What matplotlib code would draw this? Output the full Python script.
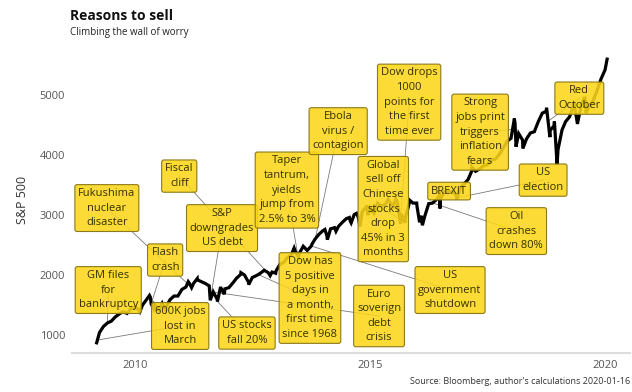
import matplotlib.pyplot as plt
import numpy as np
import pandas as pd

plt.rcParams["font.family"] = ["Open Sans", "DejaVu Sans"]

# month-end closes, Mar 2009 .. Dec 2019 (index level, total return scale)
monthly_start = "2009-03-31"
monthly_values = [
    1040, 1140, 1200, 1230, 1300, 1350, 1390, 1360, 1440, 1470,
    1420, 1500, 1590, 1630, 1510, 1440, 1530, 1470, 1590, 1650, 1650, 1760,
    1800, 1860, 1860, 1920, 1890, 1860, 1820, 1720, 1600, 1780, 1770, 1790,
    1870, 1950, 2010, 2000, 1880, 1960, 1990, 2030, 2080, 2040, 2050, 2070,
    2180, 2210, 2290, 2340, 2390, 2360, 2480, 2410, 2480, 2600, 2680, 2740,
    2650, 2770, 2790, 2810, 2880, 2940, 2900, 3010, 2970, 3050, 3130, 3120,
    3030, 3200, 3150, 3180, 3220, 3150, 3220, 3020, 2940, 3190, 3200, 3150,
    2990, 2980, 3190, 3200, 3260, 3270, 3390, 3390, 3390, 3330, 3450, 3520,
    3590, 3730, 3730, 3770, 3820, 3840, 3920, 3930, 4010, 4110, 4230, 4280,
    4530, 4360, 4250, 4270, 4370, 4390, 4560, 4700, 4730, 4410, 4490, 4090,
    4420, 4560, 4640, 4830, 4520, 4840, 4910, 4820, 4910, 5080, 5270, 5420,
]

# intra-month highs and lows
extra_dates = [
    "2009-03-09", "2010-02-08", "2010-04-23", "2010-05-06", "2010-05-25",
    "2010-07-02", "2010-08-26", "2011-02-18", "2011-03-16", "2011-04-29",
    "2011-08-08", "2011-08-31", "2011-10-03", "2011-10-27", "2011-11-25",
    "2012-04-02", "2012-06-01", "2012-11-15", "2012-12-28", "2013-05-21",
    "2013-06-24", "2013-10-08", "2014-01-15", "2014-02-03", "2014-04-11",
    "2014-07-24", "2014-08-07", "2014-09-18", "2014-10-15", "2014-12-05",
    "2014-12-16", "2015-05-21", "2015-07-20", "2015-08-25", "2015-09-29",
    "2015-11-03", "2015-12-29", "2016-01-20", "2016-02-11", "2016-06-23",
    "2016-06-27", "2016-11-04", "2017-03-01", "2018-01-26", "2018-02-08",
    "2018-04-02", "2018-10-03", "2018-10-29", "2018-12-03", "2018-12-24",
    "2019-05-03", "2019-06-03", "2019-07-26", "2019-08-05", "2020-01-16",
]
extra_values = [
    870, 1390, 1660, 1520, 1440,
    1400, 1420, 1890, 1790, 1940,
    1580, 1720, 1560, 1800, 1680,
    2040, 1840, 1990, 2030, 2450,
    2300, 2520, 2760, 2590, 2730,
    2960, 2870, 3030, 2810, 3160,
    3000, 3260, 3270, 2860, 2870,
    3250, 3200, 2880, 2830, 3330,
    3110, 3260, 3800, 4610, 4140,
    4110, 4790, 4300, 4560, 3840,
    4880, 4560, 4970, 4700, 5600,
]

labels = [
    "Fukushima\nnuclear\ndisaster", "Flash\ncrash", "Fiscal\ncliff",
    "S&P\ndowngrades\nUS debt", "Taper\ntantrum,\nyields\njump from\n2.5% to 3%",
    "Ebola\nvirus /\ncontagion", "Dow drops\n1000\npoints for\nthe first\ntime ever",
    "Global\nsell off\nChinese\nstocks\ndrop\n45% in 3\nmonths", "BREXIT",
    "Strong\njobs print\ntriggers\ninflation\nfears", "US\nelection",
    "Oil\ncrashes\ndown 80%", "US\ngovernment\nshutdown",
    "Euro\nsoverign\ndebt\ncrisis",
    "Dow has\n5 positive\ndays in\na month,\nfirst time\nsince 1968",
    "GM files\nfor\nbankruptcy", "600K jobs\nlost in\nMarch",
    "US stocks\nfall 20%", "Red\nOctober",
]
event_dates = [
    "2011-03-15", "2010-05-06", "2012-11-15",
    "2011-08-08", "2013-06-20",
    "2013-11-01", "2015-08-24",
    "2015-08-20", "2016-06-24",
    "2018-02-02", "2016-11-08",
    "2016-05-01", "2013-10-01",
    "2011-09-01",
    "2012-08-15",
    "2009-06-01", "2009-03-15",
    "2011-10-03", "2018-10-15",
]

# where each label box sits (decimal year, index level)
label_pos = [
    (2009.40, 3117), (2010.64, 2250), (2010.94, 3650),
    (2011.85, 2783), (2013.23, 3417),
    (2014.32, 4400), (2015.83, 4883),
    (2015.28, 3100), (2016.68, 3400),
    (2017.34, 4383), (2018.68, 3583),
    (2018.11, 2733), (2016.70, 1750),
    (2015.19, 1317),
    (2013.72, 1617),
    (2009.43, 1750), (2010.96, 1150),
    (2012.38, 1033), (2019.45, 4950),
]


def dec_year(d):
    d = pd.to_datetime(d)
    return d.year + (d.dayofyear - 1) / 365.25


mdates = pd.date_range(monthly_start, periods=len(monthly_values), freq="ME")
s = pd.Series(monthly_values + extra_values,
              index=list(mdates) + list(pd.to_datetime(extra_dates))).sort_index()
t = np.array([dec_year(d) for d in s.index])
v = s.values

fig = plt.figure(figsize=(6.32, 3.92), dpi=100)
ax = fig.add_axes([0.114, 0.0995, 0.883, 0.7725])

ax.plot(t, v, color="black", lw=2.3, zorder=3, solid_joinstyle="miter")

for txt, ed, (bx, by) in zip(labels, event_dates, label_pos):
    ex = dec_year(ed)
    ey = np.interp(ex, t, v)
    ax.plot([bx, ex], [by, ey], color="#7a7a7a", lw=0.6, zorder=2)
    ax.text(bx, by, txt, ha="center", va="center", fontsize=8, color="#333300",
            linespacing=1.45, zorder=4,
            bbox=dict(boxstyle="round,pad=0.3,rounding_size=0.2",
                      fc=(0.99, 0.84, 0.1, 0.88), ec="#8c7a18", lw=0.8))

ax.set_xlim(2008.66, 2020.53)
ax.set_ylim(700, 5750)
ax.set_xticks([2010, 2015, 2020])
ax.set_xticklabels(["2010", "2015", "2020"])
ax.set_yticks([1000, 2000, 3000, 4000, 5000])
ax.tick_params(length=0, labelsize=8, labelcolor="#555555", pad=5)
for side in ["top", "right", "left"]:
    ax.spines[side].set_visible(False)
ax.spines["bottom"].set_color("#dddddd")
ax.spines["bottom"].set_linewidth(1.5)

fig.text(22 / 632, 1 - 200 / 392, "S&P 500", rotation=90, ha="center", va="center",
         fontsize=9, color="#333333")
fig.text(70 / 632, 1 - 16 / 392, "Reasons to sell", fontsize=10, fontweight="bold",
         color="#111111", va="center")
fig.text(70 / 632, 1 - 32 / 392, "Climbing the wall of worry", fontsize=7,
         color="#222222", va="center")
fig.text(630 / 632, 1 - 381 / 392, "Source: Bloomberg, author's calculations 2020-01-16",
         fontsize=6.5, color="#333333", ha="right", va="center")

fig.savefig("out.png", dpi=100)
